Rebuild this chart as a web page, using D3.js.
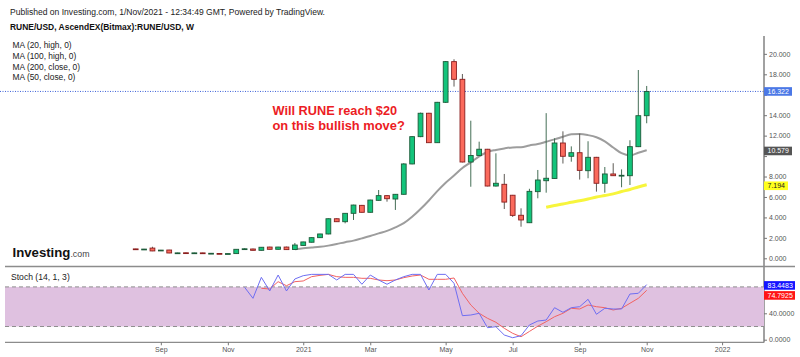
<!DOCTYPE html>
<html><head><meta charset="utf-8">
<script src="https://cdn.jsdelivr.net/npm/d3@7/dist/d3.min.js"></script>
<style>
body{margin:0;background:#fff}
svg{display:block}
text{font-family:"Liberation Sans",Arial,sans-serif}
</style>
</head><body>
<svg id="c" width="800" height="357"></svg>
<script>
// ---------------- DATA (weekly candles, RUNE/USD) ----------------
const open  = [0.92,0.88,1.00,0.74,0.81,0.48,0.54,0.49,0.53,0.48,0.47,0.44,0.46,0.88,0.91,0.78,1.10,0.88,1.10,0.86,
               1.26,1.57,2.02,2.38,3.87,3.58,4.40,5.18,4.50,5.67,6.13,5.80,6.26,9.23,11.90,14.19,11.31,15.26,19.24,17.51,
               9.42,10.06,10.67,7.07,7.24,6.17,4.21,3.48,6.52,7.59,7.81,11.28,9.98,10.33,8.57,9.88,7.34,8.25,8.08,8.08,
               10.92,13.95];
const high  = [0.93,0.92,1.13,0.82,0.83,0.55,0.56,0.55,0.55,0.52,0.49,0.47,0.90,0.98,0.95,1.10,1.13,1.12,1.14,1.50,
               1.62,2.05,2.40,3.90,3.92,4.42,5.24,5.22,5.73,6.68,6.17,6.29,9.30,11.95,14.25,14.23,15.30,19.30,19.47,18.03,
               13.46,11.41,10.70,10.27,8.25,6.20,4.89,6.80,8.64,14.20,11.74,12.42,10.95,12.20,11.45,9.92,8.93,9.30,8.70,11.55,
               18.42,16.86];
const low   = [0.86,0.87,0.70,0.72,0.50,0.46,0.47,0.47,0.46,0.45,0.42,0.42,0.44,0.86,0.76,0.76,0.86,0.86,0.83,0.84,
               1.22,1.55,2.00,2.35,3.55,3.42,3.75,4.47,4.47,5.64,5.54,4.73,6.23,9.20,11.85,11.28,11.28,15.20,16.80,9.38,
               7.00,10.00,7.04,7.02,4.82,4.05,3.09,3.45,5.87,6.42,7.78,9.27,9.45,7.70,7.83,6.52,6.42,8.05,6.95,7.17,
               10.88,13.21];
const close = [0.88,0.90,0.72,0.80,0.52,0.53,0.49,0.53,0.48,0.49,0.44,0.46,0.88,0.93,0.78,1.08,0.88,1.10,0.85,1.30,
               1.60,2.02,2.38,3.87,3.58,4.40,5.21,4.50,5.70,6.13,5.83,6.26,9.23,11.90,14.19,11.31,15.26,19.24,17.51,9.42,
               10.06,10.67,7.07,7.34,5.50,4.20,3.75,6.55,7.66,7.83,11.28,9.98,10.33,8.60,9.88,7.34,8.25,8.08,8.12,10.92,
               13.95,16.322];

// gray moving average (starts at bar 19)
const maGrayStart = 19;
const maGray = [0.88,0.98,1.05,1.12,1.24,1.40,1.58,1.73,1.95,2.18,2.44,2.68,3.03,3.44,4.06,4.82,5.66,6.57,7.40,8.10,
                8.84,9.39,9.97,10.40,10.60,10.75,10.85,10.87,11.04,11.18,11.40,11.63,11.89,12.13,12.16,12.05,11.84,11.43,10.84,10.28,
                10.06,10.33,10.579];
// yellow moving average (starts at bar 49)
const maYellowStart = 49;
const maYellow = [5.00,5.17,5.31,5.48,5.63,5.80,5.99,6.14,6.30,6.53,6.73,6.98,7.194];

// Stochastic (14,1,3)
const stochKStart = 13;
const stochK = [79.4,62.7,94.5,73.8,98,73.8,92,97,99,99,99,90.5,99,99,84,98,90.5,84,90.5,95.5,
                99,99,75.3,99,99,85.5,36.4,37.4,40,18.2,19.7,7.1,3.0,6.1,22.3,28.3,29.8,48.5,41.5,48.5,
                50,61.2,38.5,47.6,46.5,46.5,69.2,70.3,83.4483];
const stochDStart = 15;
const stochD = [77.9,76.8,87.9,81.8,87.9,89,95.5,97.5,99,95.5,94.5,94.5,93,93,90.5,89.4,90.5,94,96.5,98,
                91.5,91.5,91.5,93.5,70.3,52.6,40,32.4,26.4,17.3,9.7,4.5,12.5,20.5,27.3,34.8,40,47.6,46.5,52.6,
                50,48.5,45,47.6,55.2,62.7,74.7925];

const priceTicks = [0,2,4,6,8,10,12,14,16,18,20];
const stochTicks = [0,40];
const xTickLabels = ["Sep","Nov","2021","Mar","May","Jul","Sep","Nov","2022"];
const xTickBars   = [3,11,20,28,37,45,53,61,70];

const headerLine = "Published on Investing.com, 1/Nov/2021 - 12:34:49 GMT, Powered by TradingView.";
const symbolLine = "RUNE/USD, AscendEX(Bitmax):RUNE/USD, W";
const maLegend = ["MA (20, high, 0)","MA (100, high, 0)","MA (200, close, 0)","MA (50, close, 0)"];
const noteLines = ["Will RUNE reach $20","on this bullish move?"];
const stochTitle = "Stoch (14, 1, 3)";

// ---------------- DRAW ----------------
const svg = d3.select("#c");
const AX = 764;
const x  = d3.scaleLinear().domain([0, 61]).range([135.7, 646.7]);
const y  = d3.scaleLinear().domain([0, 18]).range([258.3, 74.3]);
const ys = d3.scaleLinear().domain([0, 100]).range([339.7, 273.7]);

svg.append("rect").attr("width",800).attr("height",357).attr("fill","#fff");

// header
svg.append("text").attr("x",10).attr("y",14.8).attr("font-size",9.2).attr("fill","#222")
   .attr("textLength",315).attr("lengthAdjust","spacingAndGlyphs").text(headerLine);
svg.append("text").attr("x",10).attr("y",29.6).attr("font-size",9.2).attr("font-weight","bold").attr("fill","#111")
   .attr("textLength",184).attr("lengthAdjust","spacingAndGlyphs").text(symbolLine);
svg.selectAll("text.ma").data(maLegend).join("text").attr("class","ma")
   .attr("x",12.5).attr("y",(d,i)=>48.3 + i*10.6).attr("font-size",8.4).attr("fill","#222").text(d=>d);

// last price dotted line
svg.append("line").attr("x1",0).attr("x2",AX).attr("y1",y(close[close.length-1])).attr("y2",y(close[close.length-1]))
   .attr("stroke","#3f63d8").attr("stroke-width",1).attr("stroke-dasharray","1,1.5");

// moving averages
const line = d3.line().curve(d3.curveMonotoneX);
svg.append("path").attr("d", line(maGray.map((v,i)=>[x(i+maGrayStart), y(v)])))
   .attr("fill","none").attr("stroke","#9d9d9d").attr("stroke-width",2);
svg.append("path").attr("d", line(maYellow.map((v,i)=>[x(i+maYellowStart), y(v)])))
   .attr("fill","none").attr("stroke","#f7f53c").attr("stroke-width",3);

// candles
const bars = close.map((c,i)=>({i, o:open[i], h:high[i], l:low[i], c}));
const g = svg.append("g");
g.selectAll("line.wick").data(bars).join("line").attr("class","wick")
  .attr("x1",d=>x(d.i)).attr("x2",d=>x(d.i)).attr("y1",d=>y(d.h)).attr("y2",d=>y(d.l))
  .attr("stroke",d=>d.c>=d.o?"#456e56":"#5d5a55").attr("stroke-width",1);
g.selectAll("rect.body").data(bars).join("rect").attr("class","body")
  .attr("x",d=>x(d.i)-2.4).attr("width",4.8)
  .attr("y",d=>y(Math.max(d.o,d.c)))
  .attr("height",d=>Math.max(0.8, Math.abs(y(d.o)-y(d.c))))
  .attr("fill",d=>d.c>=d.o?"#13c47b":"#fb6a5c")
  .attr("stroke",d=>d.c>=d.o?"#1d5a39":"#8a1f1f").attr("stroke-width",0.9);

// annotation
svg.selectAll("text.note").data(noteLines).join("text").attr("class","note")
   .attr("x",272.5).attr("y",(d,i)=>115 + i*14.6).attr("font-size",12.6).attr("font-weight","bold")
   .attr("fill","#ec1c24").attr("textLength",(d,i)=>[124.6,132.3][i]).attr("lengthAdjust","spacingAndGlyphs")
   .text(d=>d);

// frame lines
svg.append("line").attr("x1",AX).attr("x2",AX).attr("y1",36).attr("y2",342.5).attr("stroke","#6f6f6f").attr("stroke-width",1.3);
svg.append("line").attr("x1",5).attr("x2",795).attr("y1",266.5).attr("y2",266.5).attr("stroke","#8c8c8c").attr("stroke-width",1.3);
svg.append("line").attr("x1",5).attr("x2",AX).attr("y1",342.3).attr("y2",342.3).attr("stroke","#8c8c8c").attr("stroke-width",1.3);

// value labels (computed first so colliding tick labels can be hidden)
const lastClose = close[close.length-1], lastGray = maGray[maGray.length-1], lastYellow = maYellow[maYellow.length-1];
const kLast = stochK[stochK.length-1], dLast = stochD[stochD.length-1];
const kY = ys(kLast)+0.8, dY = Math.max(ys(dLast), kY+10);
const valueLabels = [
  {v:lastClose, f:".3f", bg:"#4b78e6", fg:"#fff", yy:y(lastClose), w:28},
  {v:lastGray, f:".3f", bg:"#555555", fg:"#fff", yy:y(lastGray)+0.8, w:28},
  {v:lastYellow, f:".3f", bg:"#ffff1e", fg:"#222", yy:y(lastYellow)+1, w:24},
  {v:kLast, f:".4f", bg:"#1414ff", fg:"#fff", yy:kY, w:31},
  {v:dLast, f:".4f", bg:"#ff1414", fg:"#fff", yy:dY, w:31}
];
const blocked = yy => valueLabels.some(L => Math.abs(L.yy - yy) < 8.5);

// price axis
const pAxis = svg.append("g").attr("transform",`translate(${AX},0)`)
  .call(d3.axisRight(y).tickValues(priceTicks).tickSize(3).tickPadding(2).tickFormat(d3.format(".3f")));
pAxis.select(".domain").remove();
pAxis.selectAll("line").attr("stroke","#777");
pAxis.selectAll("text").attr("font-size",7).attr("fill","#555").attr("font-family",null);
pAxis.selectAll(".tick").filter(d=>blocked(y(d))).select("text").remove();

// stoch panel
svg.append("rect").attr("x",5).attr("width",AX-5).attr("y",ys(80)).attr("height",ys(20)-ys(80)).attr("fill","#dfc1e0");
[80,20].forEach(v=>svg.append("line").attr("x1",5).attr("x2",AX).attr("y1",ys(v)).attr("y2",ys(v))
  .attr("stroke","#8f8f8f").attr("stroke-width",1).attr("stroke-dasharray","4,3"));
svg.append("path").attr("d", d3.line()(stochD.map((v,i)=>[x(i+stochDStart), ys(v)])))
   .attr("fill","none").attr("stroke","#f26262").attr("stroke-width",1);
svg.append("path").attr("d", d3.line()(stochK.map((v,i)=>[x(i+stochKStart), ys(v)])))
   .attr("fill","none").attr("stroke","#6e6ef2").attr("stroke-width",1);
svg.append("text").attr("x",11).attr("y",280).attr("font-size",8.6).attr("fill","#222").text(stochTitle);

const sAxis = svg.append("g").attr("transform",`translate(${AX},0)`)
  .call(d3.axisRight(ys).tickValues(stochTicks).tickSize(3).tickPadding(2).tickFormat(d3.format(".4f")));
sAxis.select(".domain").remove();
sAxis.selectAll("line").attr("stroke","#777");
sAxis.selectAll("text").attr("font-size",7).attr("fill","#555").attr("font-family",null);

// x axis
const xAxis = svg.append("g").attr("transform","translate(0,342.3)")
  .call(d3.axisBottom(x).tickValues(xTickBars).tickSize(3).tickPadding(2).tickFormat((d,i)=>xTickLabels[i]));
xAxis.select(".domain").remove();
xAxis.selectAll("line").attr("stroke","#777");
xAxis.selectAll("text").attr("font-size",7).attr("fill","#555").attr("font-family",null);

// draw value labels on the axis
valueLabels.forEach(L=>{
  const gg = svg.append("g");
  gg.append("rect").attr("x",AX).attr("y",L.yy-4.3).attr("width",L.w).attr("height",8.6).attr("fill",L.bg);
  gg.append("text").attr("x",AX+3.5).attr("y",L.yy+2.5).attr("font-size",7).attr("fill",L.fg).text(d3.format(L.f)(L.v));
});

// logo
const logo = svg.append("text").attr("x",12.5).attr("y",256.5);
logo.append("tspan").attr("font-size",13.2).attr("font-weight","bold").attr("fill","#111").text("Investing");
logo.append("tspan").attr("font-size",8.8).attr("fill","#444").text(".com");
</script>
</body></html>
